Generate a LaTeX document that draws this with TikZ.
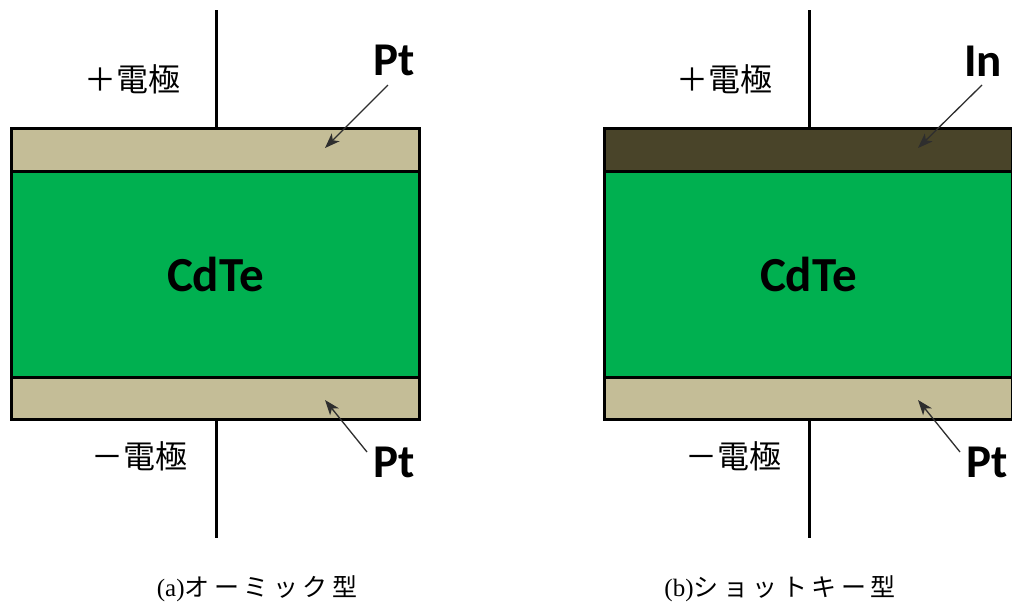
\documentclass[tikz,border=0pt]{standalone}
\usepackage{fontspec}
\setmainfont{Liberation Serif}
\newfontfamily\jpfont{Noto Sans CJK JP}
\newfontfamily\jpcapfont[LetterSpace=18]{Noto Sans CJK JP}
\newfontfamily\calfont{Carlito}
\usetikzlibrary{arrows.meta}
\definecolor{ptcol}{HTML}{C4BD97}
\definecolor{incol}{HTML}{494429}
\definecolor{cdcol}{HTML}{00B050}
\definecolor{arrcol}{HTML}{2E2E2E}
\tikzset{
  layer/.style={draw=black, line width=3pt, rectangle, minimum width=408pt, inner sep=0pt, outer sep=0pt},
  thin layer/.style={layer, minimum height=42.5pt},
  thick layer/.style={layer, minimum height=206pt, font=\calfont\bfseries\fontsize{49}{55}\selectfont},
  wire/.style={draw=black, line width=3pt},
  ptr/.style={draw=arrcol, line width=1.3pt, -{Stealth[length=15pt,width=11pt,inset=4pt]}},
  metal/.style={font=\calfont\bfseries\fontsize{47}{52}\selectfont, inner sep=0pt, anchor=base},
  elec/.style={font=\jpfont\fontsize{32}{36}\selectfont, inner sep=0pt},
  captext/.style={font=\fontsize{25}{30}\selectfont, inner sep=0pt}
}
\begin{document}
\begin{tikzpicture}[x=1pt,y=-1pt]
\useasboundingbox (0,0) rectangle (1012,606);
\clip (0,0) rectangle (1012,606);
\fill[white] (0,0) rectangle (1012,606);
% ---------- (a) ohmic ----------
\node[thick layer, fill=cdcol] (cdA) at (215.5,274) {CdTe};
\node[thin layer, fill=ptcol] (topA) at (215.5,149.75) {};
\node[thin layer, fill=ptcol] (botA) at (215.5,398.25) {};
\coordinate (wtA) at (216,10);
\coordinate (wbA) at (216,538);
\draw[wire] (wtA) -- (topA.north -| wtA);
\draw[wire] (botA.south -| wbA) -- (wbA);
\node[elec] (plusA) at (132,79) {＋電極};
\node[elec] (minusA) at (139,456) {－電極};
\node[metal] (ptTA) at (394,75) {Pt};
\node[metal] (ptBA) at (394,477) {Pt};
\coordinate (aTs) at (388,85);
\coordinate (aTe) at (325,148);
\coordinate (aBs) at (367,452);
\coordinate (aBe) at (325,400);
\draw[ptr] (aTs) -- (aTe);
\draw[ptr] (aBs) -- (aBe);
\node[captext] (capA) at (257,589) {(a)\jpcapfont オーミック型};
% ---------- (b) Schottky ----------
\node[thick layer, fill=cdcol] (cdB) at (808.5,274) {CdTe};
\node[thin layer, fill=incol] (topB) at (808.5,149.75) {};
\node[thin layer, fill=ptcol] (botB) at (808.5,398.25) {};
\coordinate (wtB) at (809,10);
\coordinate (wbB) at (809,538);
\draw[wire] (wtB) -- (topB.north -| wtB);
\draw[wire] (botB.south -| wbB) -- (wbB);
\node[elec] (plusB) at (724,79) {＋電極};
\node[elec] (minusB) at (733,456) {－電極};
\node[metal] (inTB) at (983,76) {In};
\node[metal] (ptBB) at (987,477) {Pt};
\coordinate (bTs) at (982,85);
\coordinate (bTe) at (918,148);
\coordinate (bBs) at (960,452);
\coordinate (bBe) at (918,400);
\draw[ptr] (bTs) -- (bTe);
\draw[ptr] (bBs) -- (bBe);
\node[captext] (capB) at (780,589) {(b)\jpcapfont ショットキー型};
\end{tikzpicture}
\end{document}
